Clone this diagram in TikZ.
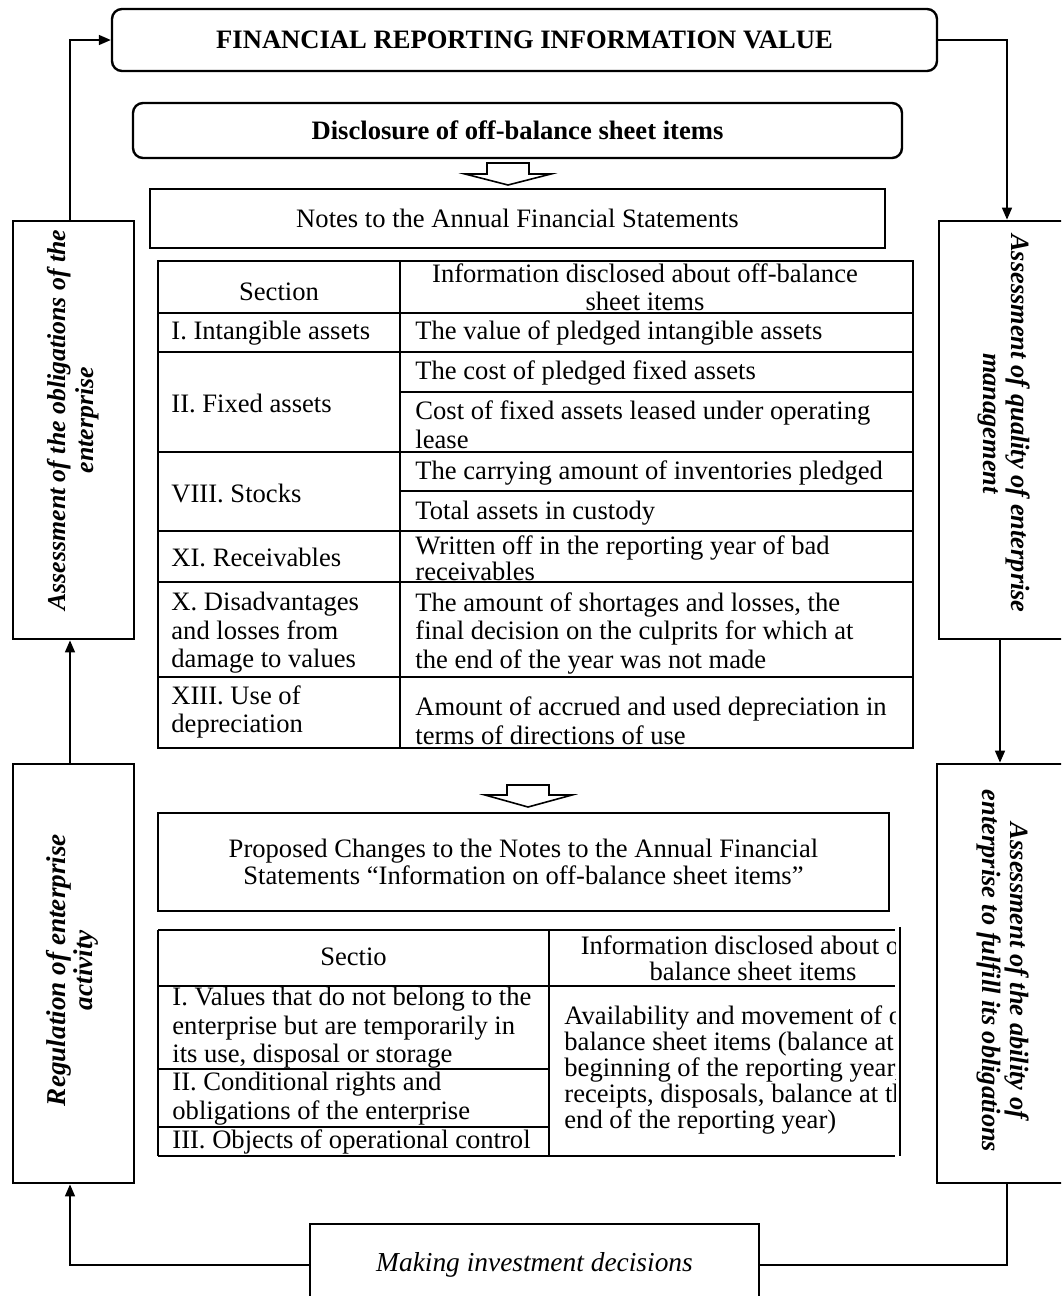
\documentclass[tikz,border=0pt]{standalone}
\usepackage{fontspec}
\setmainfont{Liberation Serif}
\usetikzlibrary{arrows.meta}
\newcommand\tsz{\fontsize{13.3}{14.25}\selectfont}
\newcommand\ssz{\fontsize{13.2}{14}\selectfont}
\newcommand\rtext[4]{\rotatebox{#1}{\hspace*{#3}\begin{tabular}{@{}c@{}}#2\end{tabular}\hspace*{#4}}}
\begin{document}
\begin{tikzpicture}[x=0.5pt,y=-0.5pt,
  rbox/.style={draw, line width=1.2pt, rounded corners=5pt, font=\tsz\bfseries, inner sep=0pt},
  plainbox/.style={draw, line width=0.8pt, font=\tsz, align=center, inner sep=0pt},
  sidebox/.style={draw, line width=1.4pt, font=\ssz\bfseries\itshape, inner sep=0pt},
  botbox/.style={draw, line width=1.4pt, font=\fontsize{13.7}{15}\selectfont\itshape, inner sep=0pt},
  conn/.style={line width=0.8pt},
  arr/.style={conn, -{Triangle[length=6pt,width=5pt]}},
  tl/.style={line width=1pt},
  cell/.style={anchor=west, align=left, inner sep=0pt, font=\tsz},
  ccell/.style={align=center, inner sep=0pt, font=\tsz},
  hollow/.style={draw, line width=0.8pt, fill=white, line join=miter}]
\useasboundingbox (0,0) rectangle (1061,1296);
\clip (0,0) rectangle (1061,1296);

% main boxes
\node[rbox, minimum width=412.5pt, minimum height=31pt] (top) at (524.5,40) {FINANCIAL REPORTING INFORMATION VALUE};
\node[rbox, minimum width=384.5pt, minimum height=27.5pt] (disc) at (517.5,130.5) {Disclosure of off-balance sheet items};
\node[plainbox, minimum width=367.5pt, minimum height=29.5pt] (notes) at (517.5,218.5) {Notes to the Annual Financial Statements};
\node[plainbox, minimum width=365.5pt, minimum height=49pt] (prop) at (523.5,862) {Proposed Changes to the Notes to the Annual Financial\\[-0.7pt]Statements “Information on off-balance sheet items”};

% side boxes
\node[sidebox, font=\fontsize{12.9}{14}\selectfont\bfseries\itshape, minimum width=60.5pt, minimum height=209pt] (lb1) at (73.5,430) {\rtext{90}{Assessment of the obligations of the\\enterprise}{10pt}{0pt}};
\node[sidebox, font=\fontsize{13.6}{13.2}\selectfont\bfseries\itshape, minimum width=60.5pt, minimum height=209.5pt] (lb2) at (73.5,973.5) {\rtext{90}{Regulation of enterprise\\activity}{3.5pt}{0pt}};
\node[sidebox, minimum width=64.5pt, minimum height=209pt] (rb1) at (1003.5,430) {\rtext{-90}{Assessment of quality of enterprise\\management}{0pt}{6.5pt}};
\node[sidebox, minimum width=65.5pt, minimum height=209.5pt] (rb2) at (1002.5,973.5) {\rtext{-90}{Assessment of the ability of\\enterprise to fulfill its obligations}{0pt}{2.5pt}};
\node[botbox, minimum width=224.5pt, minimum height=41pt] (bot) at (534.5,1265) {Making investment decisions};

% connectors
\draw[arr] ([xshift=-1.75pt]lb1.north) |- (top.west);
\draw[arr] (top.east) -| ([xshift=1.75pt]rb1.north);
\draw[arr] ([xshift=-1.75pt]rb1.south) -- ([xshift=-1.25pt]rb2.north);
\draw[arr] ([xshift=-1.75pt]lb2.north) -- ([xshift=-1.75pt]lb1.south);
\draw[arr] (bot.west) -| ([xshift=-1.75pt]lb2.south);
\draw[conn] (bot.east) -| ([xshift=2.25pt]rb2.south);

% hollow arrows
\draw[hollow] (487,163) -- (529,163) -- (529,174) -- (551,174) -- (508,185) -- (465,174) -- (487,174) -- cycle;
\draw[hollow] (507,785) -- (549,785) -- (549,795) -- (572,795) -- (528,807) -- (485,795) -- (507,795) -- cycle;

% table 1
\draw[tl] (158,261) rectangle (913,748);
\draw[tl] (400,261) -- (400,748);
\foreach \yy in {313,352,452,531,582,677} \draw[tl] (158,\yy) -- (913,\yy);
\foreach \yy in {392,491} \draw[tl] (400,\yy) -- (913,\yy);

\node[ccell] (h1a) at (279,292) {Section};
\node[ccell] (h1b) at (645,287.5) {Information disclosed about off-balance\\[-0.5pt]sheet items};
\node[cell] (a1) at (171,333) {I. Intangible assets};
\node[cell] (a2) at (171,403) {II. Fixed assets};
\node[cell] (a3) at (171,493) {VIII. Stocks};
\node[cell] (a4) at (171,557) {XI. Receivables};
\node[cell] (a5) at (171,633) {X. Disadvantages\\and losses from\\damage to values};
\node[cell] (a6) at (171,712) {XIII. Use of\\depreciation};
\node[cell] (b1) at (415,333) {The value of pledged intangible assets};
\node[cell] (b2) at (415,373) {The cost of pledged fixed assets};
\node[cell] (b3) at (415,425) {Cost of fixed assets leased under operating\\lease};
\node[cell] (b4) at (415,473) {The carrying amount of inventories pledged};
\node[cell] (b5) at (415,513) {Total assets in custody};
\node[cell, font=\fontsize{13.3}{12}\selectfont] (b6) at (415,558) {Written off in the reporting year of bad\\receivables};
\node[cell] (b7) at (415,633) {The amount of shortages and losses, the\\final decision on the culprits for which at\\the end of the year was not made};
\node[cell] (b8) at (415,721) {Amount of accrued and used depreciation in\\terms of directions of use};

% table 2
\foreach \yy in {930,986,1156} \draw[tl] (158,\yy) -- (895,\yy);
\foreach \yy in {1069,1127} \draw[tl] (158,\yy) -- (549,\yy);
\draw[tl] (158,930) -- (158,1156);
\draw[tl] (549,930) -- (549,1156);
\draw[tl] (900,927) -- (900,1156);

\node[ccell] (h2a) at (353.5,957) {Sectio};
\node[cell] (c1) at (172,1028) {I. Values that do not belong to the\\enterprise but are temporarily in\\its use, disposal or storage};
\node[cell] (c2) at (172,1098.5) {II. Conditional rights and\\obligations of the enterprise};
\node[cell] (c3) at (172,1142) {III. Objects of operational control};
\begin{scope}
\clip (549,900) rectangle (895,1160);
\node[ccell] (h2b) at (753,958.5) {Information disclosed about off-\\[-1pt]balance sheet items};
\node[cell, font=\fontsize{13.3}{13}\selectfont] (d1) at (564,1069.5) {Availability and movement of off-\\balance sheet items (balance at the\\beginning of the reporting year,\\receipts, disposals, balance at the\\end of the reporting year)};
\end{scope}
\end{tikzpicture}
\end{document}
